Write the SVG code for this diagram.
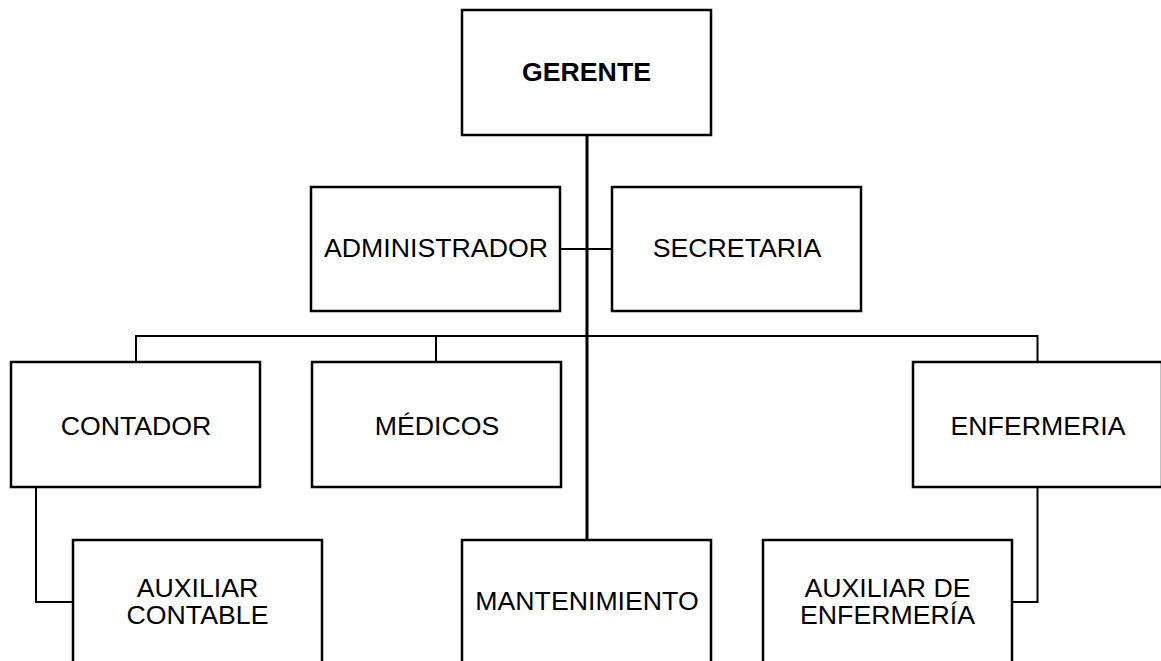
<svg xmlns="http://www.w3.org/2000/svg" width="1161" height="661" viewBox="0 0 1161 661">
<style>
.box{fill:#fff;stroke:#000;stroke-width:2.5}
.t{font-family:"Liberation Sans",Arial,sans-serif;font-size:26.7px;fill:#000;text-anchor:middle}
.b{font-weight:bold}
.c{fill:none;stroke:#000;stroke-width:2}
.trunk{fill:none;stroke:#000;stroke-width:3}
</style>
<rect width="1161" height="661" fill="#fff"/>
<g id="connectors">
<line class="trunk" x1="587" y1="135" x2="587" y2="540"/>
<line class="c" x1="560" y1="249" x2="612" y2="249"/>
<polyline class="c" points="136,362 136,336 1037.5,336 1037.5,362"/>
<line class="c" x1="436" y1="336" x2="436" y2="362"/>
<polyline class="c" points="36,487 36,602 73,602"/>
<polyline class="c" points="1037.5,487 1037.5,602 1012,602"/>
</g>
<g id="gerente"><rect class="box" x="462" y="10" width="249" height="125"/><text class="t b" x="586.5" y="81">GERENTE</text></g>
<g id="administrador"><rect class="box" x="311" y="187" width="249" height="124"/><text class="t" x="436" y="257">ADMINISTRADOR</text></g>
<g id="secretaria"><rect class="box" x="612" y="187" width="249" height="124"/><text class="t" x="737" y="257">SECRETARIA</text></g>
<g id="contador"><rect class="box" x="11" y="362" width="249" height="125"/><text class="t" x="136" y="435">CONTADOR</text></g>
<g id="medicos"><rect class="box" x="312" y="362" width="249" height="125"/><text class="t" x="437" y="435">MÉDICOS</text></g>
<g id="enfermeria"><rect class="box" x="913" y="362" width="249" height="125"/><text class="t" x="1038" y="435">ENFERMERIA</text></g>
<g id="auxiliar-contable"><rect class="box" x="73" y="540" width="249" height="160"/><text class="t" x="197.5" y="597">AUXILIAR</text><text class="t" x="197.5" y="623.5">CONTABLE</text></g>
<g id="mantenimiento"><rect class="box" x="462" y="540" width="249" height="160"/><text class="t" x="587" y="610">MANTENIMIENTO</text></g>
<g id="auxiliar-enfermeria"><rect class="box" x="763" y="540" width="249" height="160"/><text class="t" x="887.5" y="597">AUXILIAR DE</text><text class="t" x="887.5" y="624">ENFERMERÍA</text></g>
</svg>
